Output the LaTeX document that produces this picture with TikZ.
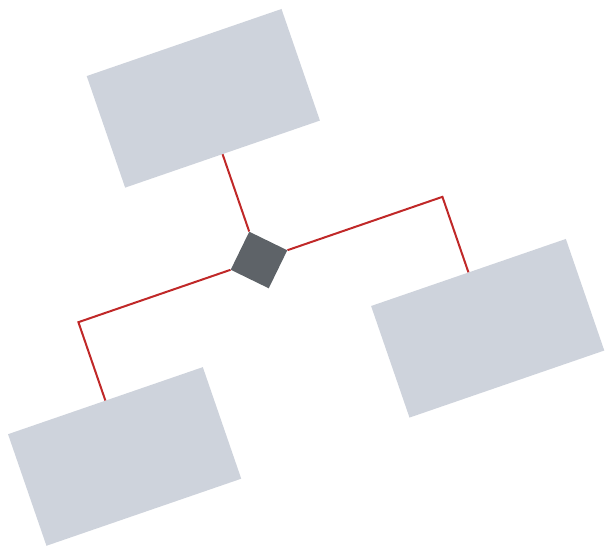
\documentclass[tikz,border=0pt]{standalone}
\usetikzlibrary{shapes.geometric}
\definecolor{boxfill}{RGB}{206,211,220}
\definecolor{hubfill}{RGB}{94,99,104}
\definecolor{linkred}{RGB}{192,40,40}

\begin{document}
\begin{tikzpicture}[
  x=1pt, y=1pt,
  box/.style={fill=boxfill, minimum width=206pt, minimum height=118pt, inner sep=0pt},
  hub/.style={diamond, fill=hubfill, minimum width=60pt, minimum height=60pt, inner sep=0pt},
  link/.style={draw=linkred, line width=2pt}
]
\useasboundingbox (0,-549) rectangle (606,0);

% whole chart is tilted
\begin{scope}[shift={(259,-260)}, rotate=19, transform shape]
\node[hub] (hub) at (0,0) {};
\node[box] (top) at (0,171) {};
\node[box] (left) at (-191,-142) {};
\node[box] (right) at (194,-139) {};
\coordinate (lcorner) at (-191,0);
\coordinate (rcorner) at (194,0);

\draw[link] (top) -- (hub);
\draw[link] (hub.west) -- (lcorner) -- (left);
\draw[link] (hub.east) -- (rcorner) -- (right);
\end{scope}
\end{tikzpicture}
\end{document}
